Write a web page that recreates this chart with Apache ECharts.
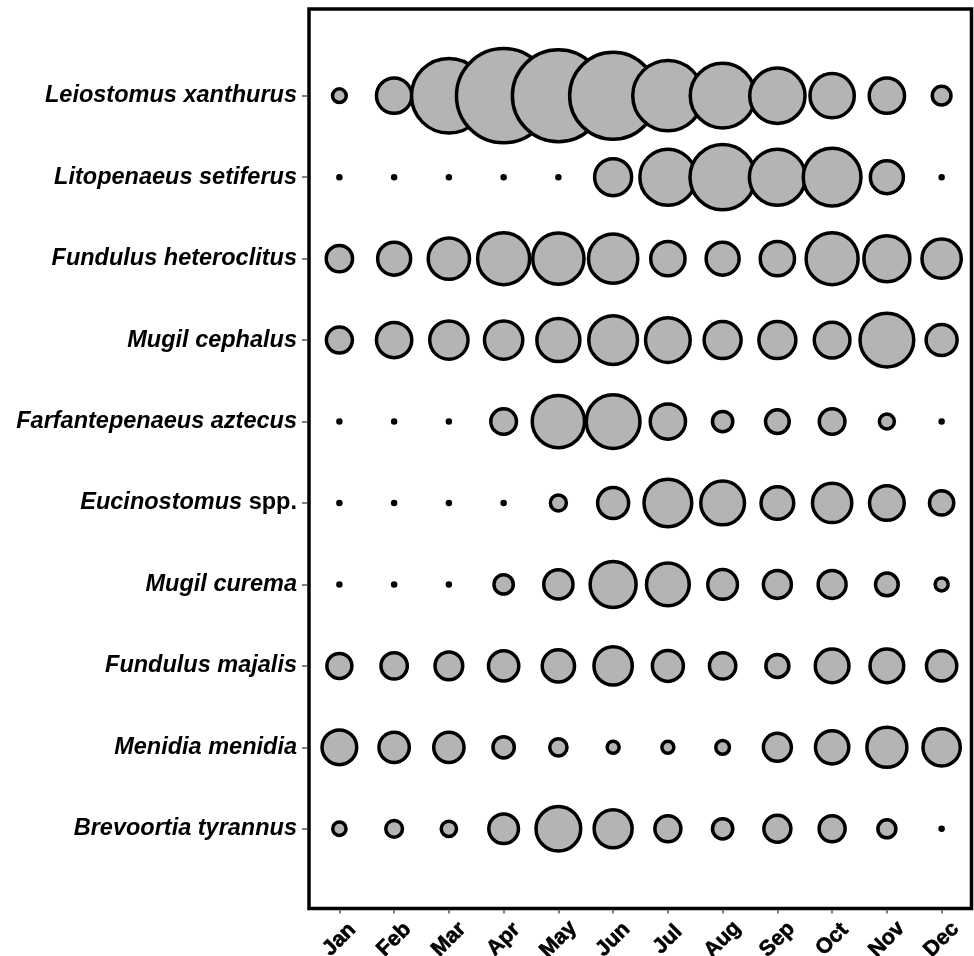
<!DOCTYPE html>
<html>
<head>
<meta charset="utf-8">
<script src="https://cdn.jsdelivr.net/npm/echarts@6/dist/echarts.min.js"></script>
<style>
  html, body { margin: 0; padding: 0; background: #fff; }
  #chart { width: 974px; height: 956px; }
</style>
</head>
<body>
<div id="chart"></div>
<script>
// Monthly relative abundance of nekton taxa (bubble area proportional to value)
const months = ['Jan', 'Feb', 'Mar', 'Apr', 'May', 'Jun', 'Jul', 'Aug', 'Sep', 'Oct', 'Nov', 'Dec'];

const species = [
  'Leiostomus xanthurus',
  'Litopenaeus setiferus',
  'Fundulus heteroclitus',
  'Mugil cephalus',
  'Farfantepenaeus aztecus',
  'Eucinostomus spp.',
  'Mugil curema',
  'Fundulus majalis',
  'Menidia menidia',
  'Brevoortia tyrannus'
];

const leiostomusXanthurus    = [1.88, 12.46, 55.8, 88.9, 84.6, 75.7, 49.4, 41.9, 30.6, 19.6, 12.46, 3.5];
const litopenaeusSetiferus   = [0.09, 0.09, 0.09, 0.09, 0.09, 13.7, 31.4, 42.6, 31.4, 33.3, 10.9, 0.09];
const fundulusHeteroclitus   = [6.92, 10.89, 17.06, 27.04, 26.32, 24.3, 11.76, 10.89, 11.76, 27.04, 21.16, 15.44];
const mugilCephalus          = [6.76, 12.46, 14.67, 14.67, 18.49, 23.72, 19.98, 13.69, 13.69, 12.74, 28.84, 9.61];
const farfantepenaeusAztecus = [0.09, 0.09, 0.09, 6.6, 27.35, 28.84, 12.46, 4.12, 5.62, 6.6, 2.25, 0.09];
const eucinostomusSpp        = [0.09, 0.09, 0.09, 0.09, 2.56, 9.61, 22.75, 19.1, 10.69, 15.44, 12.04, 5.9];
const mugilCurema            = [0.09, 0.09, 0.09, 3.72, 8.58, 21.16, 18.23, 8.82, 7.84, 7.84, 5.15, 1.69];
const fundulusMajalis        = [6.25, 6.92, 7.67, 9.18, 10.43, 14.67, 9.61, 6.92, 5.29, 11.36, 11.36, 9.18];
const menidiaMenidia         = [12.04, 9.18, 9.18, 4.54, 2.99, 1.44, 1.44, 1.88, 7.84, 11.09, 16.0, 13.91];
const brevoortiaTyrannus     = [1.77, 2.79, 2.34, 8.82, 19.98, 14.44, 6.76, 4.12, 7.29, 6.76, 3.24, 0.09];

const rows = [
  leiostomusXanthurus, litopenaeusSetiferus, fundulusHeteroclitus, mugilCephalus,
  farfantepenaeusAztecus, eucinostomusSpp, mugilCurema, fundulusMajalis,
  menidiaMenidia, brevoortiaTyrannus
];

// [month index, species index, value]
const points = [];
rows.forEach((vals, si) => {
  vals.forEach((v, mi) => points.push([mi, si, v]));
});

const FONT = '"Liberation Sans", Arial, Helvetica, sans-serif';

const chart = echarts.init(document.getElementById('chart'), null, { renderer: 'canvas' });

chart.setOption({
  animation: false,
  backgroundColor: '#ffffff',
  grid: [
    { left: 312, top: 55, width: 657, height: 814.5, containLabel: false, outerBoundsMode: 'none' },
    // outer frame
    { left: 309, top: 9, width: 662.5, height: 899.5, show: true, outerBoundsMode: 'none',
      borderColor: '#000', borderWidth: 3.5, backgroundColor: 'transparent' }
  ],
  xAxis: [
    {
      type: 'category',
      gridIndex: 0,
      data: months,
      boundaryGap: true,
      offset: 40,
      axisLine: { show: false },
      axisTick: { show: true, alignWithLabel: true, length: 4,
                  lineStyle: { color: '#555', width: 1.5 } },
      splitLine: { show: false },
      axisLabel: {
        rotate: 45,
        align: 'center',
        verticalAlign: 'middle',
        margin: 30,
        fontFamily: FONT,
        fontWeight: 'bold',
        fontSize: 21.5,
        color: '#000',
        textBorderColor: '#000',
        textBorderWidth: 0.6
      }
    },
    { type: 'value', gridIndex: 1, show: false, min: 0, max: 1 }
  ],
  yAxis: [
    {
      type: 'category',
      gridIndex: 0,
      data: species,
      inverse: true,
      boundaryGap: true,
      offset: 5,
      axisLine: { show: false },
      axisTick: { show: true, alignWithLabel: true, length: 5,
                  lineStyle: { color: '#555', width: 1.5 } },
      splitLine: { show: false },
      axisLabel: {
        margin: 10,
        color: '#000',
        formatter: function (name) {
          if (name.endsWith(' spp.')) {
            return '{i|' + name.slice(0, -5) + '}{n| spp.}';
          }
          return '{i|' + name + '}';
        },
        rich: {
          i: { fontFamily: FONT, fontWeight: 'bold', fontStyle: 'italic', fontSize: 23.5, color: '#000' },
          n: { fontFamily: FONT, fontWeight: 'bold', fontStyle: 'normal', fontSize: 23.5, color: '#000' }
        }
      }
    },
    { type: 'value', gridIndex: 1, show: false, min: 0, max: 1 }
  ],
  series: [
    {
      type: 'scatter',
      xAxisIndex: 0,
      yAxisIndex: 0,
      data: points,
      symbol: 'circle',
      symbolSize: function (d) { return 10 * Math.sqrt(d[2]); },
      itemStyle: {
        color: '#b3b4b6',
        borderColor: '#000',
        borderWidth: 3.5,
        opacity: 1
      },
      emphasis: { disabled: true }
    }
  ]
});
</script>
</body>
</html>
